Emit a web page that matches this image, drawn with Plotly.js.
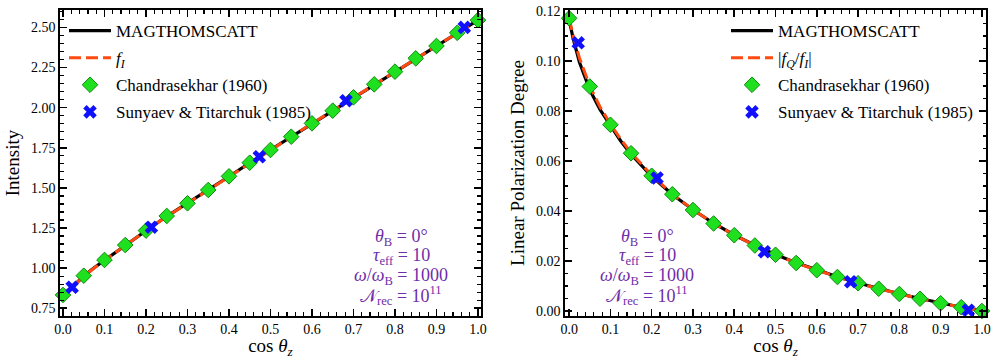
<!DOCTYPE html>
<html>
<head>
<meta charset="utf-8">
<script src="https://cdn.plot.ly/plotly-3.0.1.min.js"></script>
<style>body{margin:0;background:#fff}</style>
</head>
<body>
<div id="chart" style="width:997px;height:359px"></div>
<script>
// cos(theta_z) grid of the tabulated points
const muTab = [0, 0.05, 0.1, 0.15, 0.2, 0.25, 0.3, 0.35, 0.4, 0.45, 0.5,
               0.55, 0.6, 0.65, 0.7, 0.75, 0.8, 0.85, 0.9, 0.95, 1.0];
// Chandrasekhar (1960)
const chandraI = [0.833, 0.953, 1.051, 1.144, 1.234, 1.325, 1.404, 1.487, 1.572, 1.657, 1.736,
                  1.819, 1.902, 1.981, 2.064, 2.145, 2.224, 2.307, 2.384, 2.466, 2.545];
const chandraP = [0.1171, 0.0898, 0.0745, 0.0631, 0.0541, 0.0467, 0.0404, 0.0350, 0.0303, 0.0262, 0.0225,
                  0.0192, 0.0163, 0.0136, 0.0111, 0.0089, 0.0068, 0.0049, 0.0031, 0.0015, 0.0];
// Sunyaev & Titarchuk (1985)
const muST = [0.022, 0.213, 0.473, 0.682, 0.967];
const stI = [0.881, 1.255, 1.694, 2.043, 2.500];
const stP = [0.1073, 0.0532, 0.0237, 0.0117, 0.0003];

// model curves (MAGTHOMSCATT simulation and analytic f_I, |f_Q/f_I|)
const muCurve = [0, 0.01, 0.025, 0.05, 0.075, 0.1, 0.125, 0.15, 0.2, 0.25, 0.3, 0.35, 0.4, 0.45, 0.5,
                 0.55, 0.6, 0.65, 0.7, 0.75, 0.8, 0.85, 0.9, 0.95, 1.0];
const magI = [0.832, 0.858, 0.889, 0.951, 1.003, 1.050, 1.097, 1.143, 1.233, 1.323, 1.404, 1.488, 1.571, 1.656, 1.737,
              1.818, 1.901, 1.982, 2.063, 2.144, 2.225, 2.306, 2.385, 2.465, 2.545];
const fI = [0.830, 0.855, 0.887, 0.949, 1.001, 1.049, 1.096, 1.142, 1.232, 1.322, 1.403, 1.487, 1.570, 1.655, 1.736,
            1.818, 1.901, 1.981, 2.063, 2.144, 2.224, 2.306, 2.384, 2.465, 2.545];
const magP = [0.1165, 0.1088, 0.0995, 0.0885, 0.0805, 0.0740, 0.0680, 0.0627, 0.0539, 0.0466, 0.0405, 0.0351, 0.0304, 0.0263, 0.0226,
              0.0193, 0.0164, 0.0137, 0.0112, 0.0090, 0.0069, 0.0050, 0.0032, 0.0015, 0.0003];
const fP = [0.1171, 0.1100, 0.1012, 0.0900, 0.0816, 0.0748, 0.0687, 0.0633, 0.0543, 0.0468, 0.0405, 0.0351, 0.0304, 0.0262, 0.0225,
            0.0192, 0.0163, 0.0136, 0.0111, 0.0089, 0.0068, 0.0049, 0.0031, 0.0015, 0.0];

const annLines = ["<i>θ</i><sub>B</sub> = 0°", "<i>τ</i><sub>eff</sub> = 10",
                  "<i>ω</i>/<i>ω</i><sub>B</sub> = 1000", "𝒩<sub>rec</sub> = 10<sup>11</sup>"];

const SERIF = "Liberation Serif, DejaVu Serif, serif";
const green = "#1ee01e", greenEdge = "#118a11", blue = "#1010ff", orange = "#ff4a12", purple = "#6f2da8";

function traces(xa, ya, leg, yMag, yF, yCh, ySt, fName) {
  return [
    {x: muCurve, y: yMag, xaxis: xa, yaxis: ya, legend: leg, legendgroup: leg + "a", type: "scatter", mode: "lines",
     name: "MAGTHOMSCATT", line: {color: "black", width: 3.2}},
    {x: muCurve, y: yF, xaxis: xa, yaxis: ya, legend: leg, legendgroup: leg + "b", type: "scatter", mode: "lines",
     name: fName, line: {color: orange, width: 3, dash: "12px,5px"}},
    {x: muTab, y: yCh, xaxis: xa, yaxis: ya, legend: leg, legendgroup: leg + "c", type: "scatter", mode: "markers", cliponaxis: false,
     name: "Chandrasekhar (1960)", marker: {symbol: "diamond", size: 12, color: green, line: {color: greenEdge, width: 1}}},
    {x: muST, y: ySt, xaxis: xa, yaxis: ya, legend: leg, legendgroup: leg + "d", type: "scatter", mode: "markers", cliponaxis: false,
     name: "Sunyaev & Titarchuk (1985)", marker: {symbol: "x", size: 12, color: blue, line: {width: 0}}}
  ];
}

const data = [].concat(
  traces("x", "y", "legend", magI, fI, chandraI, stI, "<i>f<sub>I</sub></i>"),
  traces("x2", "y2", "legend2", magP, fP, chandraP, stP, "|<i>f<sub>Q</sub></i>/<i>f<sub>I</sub></i>|")
);

const axBase = {
  showline: true, linewidth: 1.6, linecolor: "black", mirror: "allticks",
  ticks: "inside", ticklen: 7, tickwidth: 1.6, tickcolor: "black",
  showgrid: false, zeroline: false, tickfont: {family: SERIF, size: 14}
};
const xTitle = {text: "cos <i>θ<sub>z</sub></i>", font: {family: SERIF, size: 19}, standoff: 3};
const yDom = [0.1198, 0.9721];
const minorX = {ticks: "inside", dtick: 0.02, ticklen: 3.5, tickwidth: 1.2, tickcolor: "black"};

const layout = {
  width: 997, height: 359,
  margin: {l: 0, r: 0, t: 0, b: 0},
  paper_bgcolor: "white", plot_bgcolor: "white",
  font: {family: SERIF, size: 14, color: "black"},
  xaxis: Object.assign({}, axBase, {domain: [0.0602, 0.4824], range: [-0.0072, 1.0072], anchor: "y",
    dtick: 0.1, tick0: 0, tickformat: ".1f", title: xTitle, minor: minorX}),
  yaxis: Object.assign({}, axBase, {domain: yDom, range: [0.702, 2.608], anchor: "x",
    dtick: 0.25, tick0: 0.75, tickformat: ".2f",
    title: {text: "Intensity", font: {family: SERIF, size: 19}, standoff: 6},
    minor: {ticks: "inside", dtick: 0.05, ticklen: 3.5, tickwidth: 1.2, tickcolor: "black"}}),
  xaxis2: Object.assign({}, axBase, {domain: [0.5667, 0.989], range: [-0.01, 1.01], anchor: "y2",
    dtick: 0.1, tick0: 0, tickformat: ".1f", title: xTitle, minor: minorX}),
  yaxis2: Object.assign({}, axBase, {domain: yDom, range: [-0.002, 0.1204], anchor: "x2",
    dtick: 0.02, tick0: 0, tickformat: ".2f",
    title: {text: "Linear Polarization Degree", font: {family: SERIF, size: 19}, standoff: 6},
    minor: {ticks: "inside", dtick: 0.005, ticklen: 3.5, tickwidth: 1.2, tickcolor: "black"}}),
  legend: {x: 64 / 997, y: 1 - 13 / 359, xanchor: "left", yanchor: "top", bgcolor: "rgba(0,0,0,0)",
    font: {family: SERIF, size: 17}, itemwidth: 42, tracegroupgap: 2, traceorder: "grouped"},
  legend2: {x: 726 / 997, y: 1 - 13 / 359, xanchor: "left", yanchor: "top", bgcolor: "rgba(0,0,0,0)",
    font: {family: SERIF, size: 17}, itemwidth: 42, tracegroupgap: 2, traceorder: "grouped"},
  annotations: []
};

const annY = [237, 256, 276, 295];
[401, 647].forEach(function (cx) {
  annLines.forEach(function (t, i) {
    layout.annotations.push({xref: "paper", yref: "paper", x: cx / 997, y: 1 - annY[i] / 359,
      xanchor: "center", yanchor: "middle", text: t, showarrow: false,
      font: {family: SERIF, size: 18, color: purple}});
  });
});

Plotly.newPlot("chart", data, layout, {displayModeBar: false, staticPlot: true});
</script>
</body>
</html>
